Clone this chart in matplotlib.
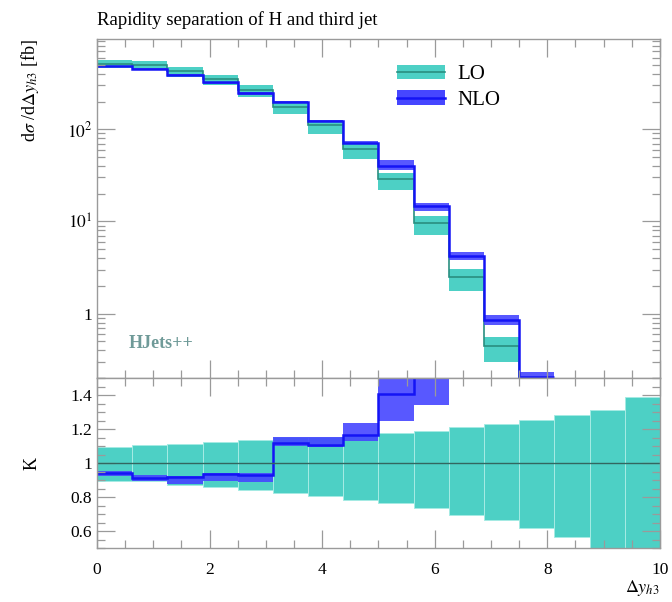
import numpy as np
import matplotlib
matplotlib.use("Agg")
from matplotlib import pyplot as plt
from matplotlib.patches import Patch
from matplotlib.lines import Line2D
from matplotlib.ticker import MultipleLocator, FixedLocator, FuncFormatter, LogLocator

plt.rcParams['font.family'] = ['Liberation Serif', 'DejaVu Serif']
plt.rcParams['mathtext.fontset'] = 'stix'

# bin edges in delta y_h3
edges = [0, 0.625, 1.25, 1.875, 2.5, 3.125, 3.75, 4.375, 5.0,
         5.625, 6.25, 6.875, 7.5, 8.125, 8.75, 9.375, 10.0]

# LO cross section [fb] and its relative scale band
lo = [513, 496, 427, 349, 267, 176, 110, 61, 28.7, 9.7, 2.5, 0.45,
      0.1, 0.04, 0.015, 0.005]
lo_up = [1.092, 1.104, 1.112, 1.122, 1.133, 1.151, 1.151, 1.165, 1.176,
         1.19, 1.214, 1.229, 1.253, 1.282, 1.312, 1.39]
lo_dn = [0.896, 0.892, 0.873, 0.857, 0.843, 0.824, 0.804, 0.784, 0.765,
         0.735, 0.696, 0.665, 0.618, 0.563, 0.46, 0.42]

# K factor NLO/LO (NLO only filled up to 8.125)
k = [0.94, 0.912, 0.915, 0.933, 0.931, 1.116, 1.108, 1.167, 1.406,
     1.53, 1.68, 1.88, 2.05]
k_up = [0.955, 0.929, 0.925, 0.941, 0.941, 1.155, 1.151, 1.233, 1.6,
        1.65, 1.85, 2.13, 2.3]
k_dn = [0.924, 0.892, 0.876, 0.892, 0.886, 1.10, 1.096, 1.131, 1.249,
        1.343, 1.52, 1.67, 1.8]

teal = '#4dd0c5'
teal_line = '#2a8f80'
blue_band = '#4646ff'
blue_line = '#1414f5'
frame = '#9a9a9a'

edges = np.array(edges)
lo = np.array(lo)
lo_up = np.array(lo_up)
lo_dn = np.array(lo_dn)
k = np.array(k)
k_up = np.array(k_up)
k_dn = np.array(k_dn)
n_nlo = len(k)
e_nlo = edges[:n_nlo + 1]
lo_n = lo[:n_nlo]

fig = plt.figure(figsize=(6.72, 6.02), dpi=100)
ax = fig.add_axes([0.1443, 0.372, 0.8377, 0.563])
axr = fig.add_axes([0.1443, 0.0897, 0.8377, 0.2823], sharex=ax)

# upper panel
ax.stairs(lo * lo_up, edges, baseline=lo * lo_dn, fill=True, color=teal, lw=0)
ax.stairs(lo, edges, baseline=None, color=teal_line, lw=1.2)
ax.stairs(lo_n * k_up, e_nlo, baseline=lo_n * k_dn, fill=True, color=blue_band, lw=0, alpha=0.9)
ax.stairs(lo_n * k, e_nlo, baseline=None, color=blue_line, lw=1.8)
ax.set_yscale('log')
ax.set_ylim(0.2, 950)
ax.set_xlim(0, 10)
ax.yaxis.set_major_locator(FixedLocator([1, 10, 100]))
ax.yaxis.set_major_formatter(FuncFormatter(
    lambda v, p: {1: '1', 10: r'$10^{1}$', 100: r'$10^{2}$'}.get(int(round(v)), '')))
ax.yaxis.set_minor_locator(LogLocator(base=10, subs=np.arange(2, 10), numticks=20))
ax.yaxis.set_minor_formatter(FuncFormatter(lambda v, p: ''))
ax.tick_params(labelbottom=False)
ax.set_ylabel(r'd$\sigma$ /d$\Delta y_{h3}$ [fb]', loc='top', fontsize=13)
ax.set_title('Rapidity separation of H and third jet', loc='left', fontsize=13.5, pad=10)

lo_handle = (Patch(color=teal, lw=0), Line2D([], [], color=teal_line, lw=1.2))
nlo_handle = (Patch(color=blue_band, lw=0), Line2D([], [], color=blue_line, lw=1.8))
ax.legend([lo_handle, nlo_handle], ['LO', 'NLO'], loc='upper left',
          bbox_to_anchor=(0.5, 0.98), frameon=False, fontsize=15,
          handlelength=2.3, handleheight=0.7, handletextpad=0.6, labelspacing=0.3)
ax.text(0.057, 0.103, 'HJets++', transform=ax.transAxes, fontsize=13,
        fontweight='bold', color='#6f9a98', va='center')

# ratio panel
axr.bar(edges[:-1], lo_up - lo_dn, bottom=lo_dn, width=np.diff(edges), align='edge',
        color=teal, edgecolor='#a6ebe4', linewidth=0.7)
axr.axhline(1.0, color='#33665f', lw=1.0)
axr.stairs(k_up, e_nlo, baseline=k_dn, fill=True, color=blue_band, lw=0, alpha=0.9)
axr.stairs(k, e_nlo, baseline=None, color=blue_line, lw=1.8)
axr.set_ylim(0.5, 1.5)
axr.set_xlim(0, 10)
axr.yaxis.set_major_locator(FixedLocator([0.6, 0.8, 1.0, 1.2, 1.4]))
axr.yaxis.set_major_formatter(FuncFormatter(lambda v, p: '1' if abs(v - 1) < 1e-6 else f'{v:.1f}'))
axr.yaxis.set_minor_locator(MultipleLocator(0.05))
axr.xaxis.set_major_locator(MultipleLocator(2))
axr.xaxis.set_minor_locator(MultipleLocator(0.5))
axr.set_ylabel('K', fontsize=13)
axr.set_xlabel(r'$\Delta y_{h3}$', loc='right', fontsize=13, labelpad=0)

for a in (ax, axr):
    a.tick_params(which='both', direction='in', top=True, right=True, color=frame,
                  labelsize=12.5, width=0.9)
    a.tick_params(which='major', length=13)
    a.tick_params(which='minor', length=6)
    for s in a.spines.values():
        s.set_color(frame)
        s.set_linewidth(1.0)
axr.tick_params(axis='x', pad=10)
ax.yaxis.set_label_coords(-0.1, 1.0)
axr.yaxis.set_label_coords(-0.1, 0.5)

fig.savefig('out.png', dpi=100)
